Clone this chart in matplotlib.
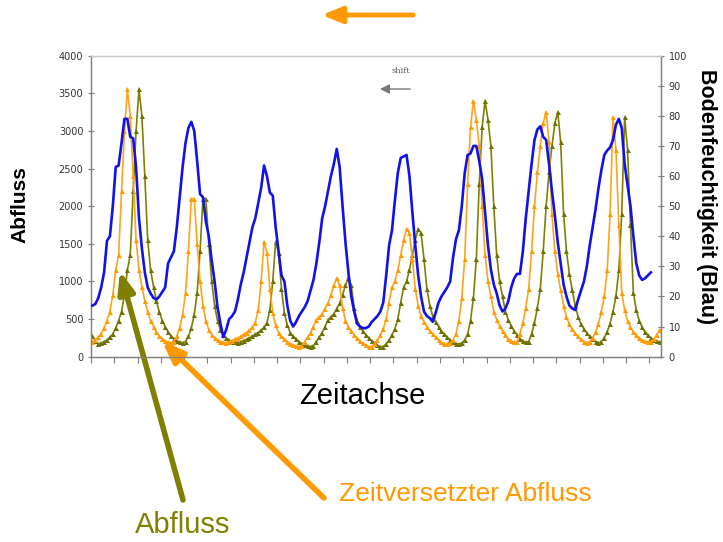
import matplotlib
matplotlib.use('Agg')
import matplotlib.pyplot as plt
import numpy as np

# Abfluss (discharge), half-monthly values; the orange series is the same
# discharge shifted by `shift` steps (zeitversetzt)
abfluss = [280, 210, 170, 180,
           200, 220, 260, 300, 380, 480, 600, 820, 1150, 1350, 2200, 3000, 3550, 3200, 2400, 1550,
           1150, 930, 740, 590, 480, 400, 330, 275, 240, 210, 195, 185,
           200, 270, 380, 560, 850, 1400, 2100, 2100, 1500, 1000, 680, 480, 360, 290, 250, 220, 200, 190, 185,
           195, 215, 230, 250, 270, 300, 320, 350, 390, 450, 620, 1000, 1530, 1380, 900, 580, 420, 320,
           270, 240, 200, 175, 155, 140, 135, 145,
           200, 260, 320, 400, 490, 530, 570, 640, 710, 820, 950, 1040, 950, 650, 480, 400, 340, 290,
           250, 210, 180, 150, 135, 135, 170,
           220, 290, 370, 500, 720, 920, 1000, 1150, 1350, 1550, 1700, 1640, 1300, 900, 680, 540, 460,
           400, 340, 300, 260, 220, 190, 175, 170, 180,
           220, 300, 480, 780, 1300, 2300, 3050, 3400, 3150, 2800, 2000, 1350, 1000, 800, 600, 490, 410,
           340, 290, 240, 210, 190, 200,
           300, 450, 650, 900, 1400, 2000, 2450, 2800, 3100, 3250, 2850, 1900, 1400, 1100, 880, 680, 530,
           430, 370, 310, 270, 230, 200, 185,
           200, 250, 330, 440, 600, 800, 1150, 1900, 3180, 2750, 1750, 850, 620, 480, 390, 330, 285, 250,
           220, 205, 195, 200, 230, 290, 360]
shift = 4
n_cat = 196

# Bodenfeuchtigkeit (soil moisture, %), right axis
bodenfeuchte = [17, 17.5, 19.5, 23, 28, 38.5, 40, 50, 63, 63.5, 71, 79, 79, 73, 72.5, 63, 46, 36, 28, 23,
                21, 19.5, 19, 20, 21.5, 23, 31, 33, 35, 43, 53, 63, 71, 76, 78, 75, 65, 54, 53, 45,
                40, 32, 25, 16.5, 11, 6.5, 9, 12.5, 13.5, 15, 19, 24, 28, 33, 38, 43, 46, 51, 56, 63.5,
                60, 54.5, 53.5, 43, 35, 27, 25, 17, 12, 10, 11.5, 13.5, 15, 16.5, 18.5, 22, 25.5, 31, 38, 46,
                50, 55, 60, 64, 69, 63, 50, 38, 28, 20, 15, 11, 10, 9.5, 9.5, 10, 11.5, 12.5, 13.5, 15,
                18, 27, 37, 42, 52, 61, 66, 66.5, 67, 60, 48, 37, 27, 20, 15, 13.5, 12.8, 11.6, 14.5, 18,
                20, 21.5, 23, 25, 33, 39, 42, 50, 61, 67, 67.5, 70, 70, 65, 59, 48, 37, 29, 24, 21,
                17, 15, 16, 18.5, 23, 26, 27.5, 27.5, 35, 46, 55, 64, 72, 75.5, 76.5, 73, 72, 64, 55, 47,
                38, 31, 24, 20, 17, 16, 15.5, 19, 22, 25, 30, 37, 43, 49, 56, 62, 67, 68.5, 69.5, 72,
                77, 79, 76, 64, 57, 50, 40, 31, 27, 25.5, 26, 27, 28]

left_ticks = [0, 500, 1000, 1500, 2000, 2500, 3000, 3500, 4000]
right_ticks = [0, 10, 20, 30, 40, 50, 60, 70, 80, 90, 100]

W, H = 723, 542
fig = plt.figure(figsize=(W / 100, H / 100), dpi=100)
ax = fig.add_axes([91 / W, 1 - 356.7 / H, 570 / W, 301.1 / H])

x = np.arange(n_cat)
green = abfluss[:n_cat]
orange = abfluss[shift:shift + n_cat]
ax.plot(x, green, color='#7d8000', lw=1.2, marker='^', ms=3.6, mew=0, mfc='#6e7000', zorder=2)
ax.plot(x, orange, color='#ffa31a', lw=1.2, marker='^', ms=3.6, mew=0, mfc='#ff9a00', zorder=3)

ax.set_xlim(-0.5, n_cat - 0.5)
ax.set_ylim(0, 4000)
ax.set_yticks(left_ticks)
ax.set_xticks(np.arange(-0.5, n_cat, 8))
ax.set_xticklabels([])
ax.tick_params(axis='y', direction='inout', length=5, width=0.8, color='#808080',
               labelsize=7, labelcolor='#333333', pad=3)
ax.tick_params(axis='x', direction='out', length=4, width=0.8, color='#808080')
for s in ['left', 'bottom', 'right']:
    ax.spines[s].set_color('#808080')
    ax.spines[s].set_linewidth(0.9)
ax.spines['top'].set_color('#c8c8c8')
ax.spines['top'].set_linewidth(0.9)

ax2 = ax.twinx()
ax2.plot(np.arange(len(bodenfeuchte)), bodenfeuchte, color='#1212e8', lw=1.9, zorder=4)
ax2.set_ylim(0, 100)
ax2.set_yticks(right_ticks)
ax2.tick_params(axis='y', direction='inout', length=5, width=0.8, color='#808080',
                labelsize=7, labelcolor='#333333', pad=3)
for s in ax2.spines.values():
    s.set_color('#808080')
    s.set_linewidth(0.9)
ax2.spines['top'].set_color('#c8c8c8')

font = 'Liberation Sans'
fig.text(20 / W, 1 - 205 / H, 'Abfluss', rotation=90, fontsize=15, fontweight='bold',
         family=font, ha='center', va='center')
fig.text(706 / W, 1 - 197 / H, 'Bodenfeuchtigkeit (Blau)', rotation=-90, fontsize=15.5,
         fontweight='bold', family=font, ha='center', va='center')
fig.text(362 / W, 1 - 396 / H, 'Zeitachse', fontsize=21, family=font, ha='center', va='center')
fig.text(465 / W, 1 - 494 / H, 'Zeitversetzter Abfluss', fontsize=19, family=font,
         color='#ff9900', ha='center', va='center')
fig.text(183 / W, 1 - 525 / H, 'Abfluss', fontsize=21, family=font, color='#808000',
         ha='center', va='center')
fig.text(401 / W, 1 - 71 / H, 'shift', fontsize=6, family='DejaVu Serif', color='#555555',
         ha='center', va='center')

# arrows (figure pixel coordinates)
def arrow(tip, tail, color, lw, ms, hl=0.8, hw=0.35):
    ax.annotate('', xy=(tip[0], H - tip[1]), xytext=(tail[0], H - tail[1]),
                xycoords='figure pixels', textcoords='figure pixels',
                arrowprops=dict(arrowstyle=f'-|>,head_length={hl},head_width={hw}',
                                color=color, lw=lw, mutation_scale=ms,
                                shrinkA=0, shrinkB=0), annotation_clip=False)

arrow((120, 271), (183, 500), '#7f7f00', 4.0, 15, hl=0.85, hw=0.33)
arrow((162, 341), (324, 498), '#ff9900', 4.0, 15, hl=0.85, hw=0.33)
arrow((322, 15), (413, 15), '#ff9900', 3.5, 14, hl=0.85, hw=0.35)
arrow((380, 89), (410, 89), '#777777', 1.0, 7, hl=0.8, hw=0.4)

fig.savefig('out.png', dpi=100)
